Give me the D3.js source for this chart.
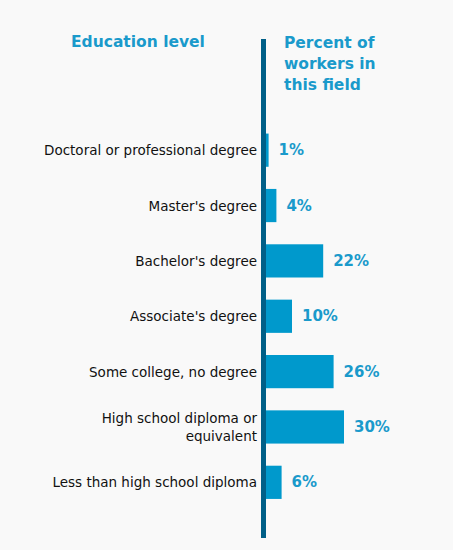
<!DOCTYPE html><html><head><meta charset="utf-8"><script src="https://cdn.jsdelivr.net/npm/d3@7"></script>
<style>body{margin:0;background:#f9f9f9}</style></head><body><svg id="c" width="453" height="550"></svg>
<script>
const categories=[["Doctoral or professional degree"],["Master's degree"],["Bachelor's degree"],["Associate's degree"],["Some college, no degree"],["High school diploma or","equivalent"],["Less than high school diploma"]];
const values=[1,4,22,10,26,30,6];
const svg=d3.select("#c");
svg.append("rect").attr("width",453).attr("height",550).attr("fill","#f9f9f9");
const x=d3.scaleLinear().domain([0,30]).range([266,344]);
const y=d3.scaleBand().domain(d3.range(7)).range([122.5,510]).paddingInner(0.4).paddingOuter(0.2);
const font="DejaVu Sans, Verdana, sans-serif";
svg.append("text").attr("x",71).attr("y",47).attr("font-family",font).attr("font-weight","bold").attr("font-size",15.5).attr("fill","#1a9acb").text("Education level");
["Percent of","workers in","this field"].forEach((t,i)=>svg.append("text").attr("x",284).attr("y",48+i*21).attr("font-family",font).attr("font-weight","bold").attr("font-size",15.5).attr("fill","#1a9acb").text(t));
svg.selectAll(".bar").data(values).join("rect").attr("x",x(0)).attr("y",(d,i)=>y(i)).attr("height",y.bandwidth()).attr("width",d=>x(d)-x(0)).attr("fill","#0099cc");
svg.selectAll(".v").data(values).join("text").attr("x",d=>x(d)+10).attr("y",(d,i)=>y(i)+y.bandwidth()/2+5).attr("font-family",font).attr("font-weight","bold").attr("font-size",15).attr("fill","#1a9acb").text(d=>d+"%");
categories.forEach((c,i)=>{const cy=y(i)+y.bandwidth()/2;c.forEach((t,j)=>svg.append("text").attr("x",257).attr("y",cy+5+(j-(c.length-1)/2)*18).attr("text-anchor","end").attr("font-family",font).attr("font-size",13.5).attr("fill","#111").text(t));});
svg.append("rect").attr("x",261).attr("y",39).attr("width",5).attr("height",499).attr("fill","#005f87");
</script></body></html>
